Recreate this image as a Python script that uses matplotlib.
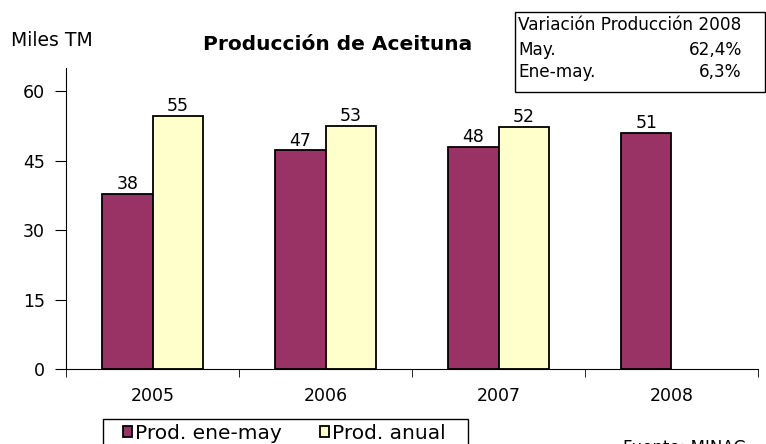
import matplotlib
matplotlib.use("Agg")
import matplotlib.pyplot as plt
from matplotlib.patches import Rectangle
import numpy as np

plt.rcParams['font.family'] = ['DejaVu Sans']

years = ['2005', '2006', '2007', '2008']
ene_may = [37.8, 47.2, 48.0, 51.0]
anual = [54.6, 52.5, 52.3, None]
ene_may_labels = ['38', '47', '48', '51']
anual_labels = ['55', '53', '52', '']
yticks = [0, 15, 30, 45, 60]

W, H = 766, 444
fig = plt.figure(figsize=(W/100, H/100), dpi=100)
ax = fig.add_axes([66/W, 1-369/H, (758-66)/W, (369-68)/H])

FS = 12.5
x = np.arange(len(years))
bw = 0.29
purple = '#993366'
yellow = '#FFFFCC'
b1 = ax.bar(x - bw/2, ene_may, bw, color=purple, edgecolor='black', linewidth=1.3, label='Prod. ene-may')
xa = [xi + bw/2 for xi, v in zip(x, anual) if v is not None]
va = [v for v in anual if v is not None]
b2 = ax.bar(xa, va, bw, color=yellow, edgecolor='black', linewidth=1.3, label='Prod. anual')
for xi, v, l in zip(x, ene_may, ene_may_labels):
    ax.text(xi - bw/2, v + 0.2, l, ha='center', va='bottom', fontsize=FS)
for xi, v, l in zip(x, anual, anual_labels):
    if v is not None:
        ax.text(xi + bw/2, v + 0.2, l, ha='center', va='bottom', fontsize=FS)

ax.set_xlim(-0.5, 3.5)
ax.set_ylim(0, 65)
ax.set_yticks(yticks)
ax.set_yticklabels([str(t) for t in yticks], fontsize=FS)
ax.set_xticks(x)
ax.set_xticklabels(years, fontsize=FS)
ax.set_xticks(np.arange(-0.5, 4.0, 1.0), minor=True)
ax.tick_params(axis='x', which='major', length=0, pad=13)
ax.tick_params(axis='x', which='minor', length=6, direction='out')
ax.tick_params(axis='y', length=8, direction='out', pad=7)
for s in ['top', 'right']:
    ax.spines[s].set_visible(False)

fig.text(11/W, 1-40/H, 'Miles TM', fontsize=13.5, va='center', ha='left')
fig.text(338/W, 1-45/H, 'Producción de Aceituna', fontsize=14.5, fontweight='bold', va='center', ha='center')

# Variation box
fig.patches.append(Rectangle((515/W, 1-92/H), (765-515)/W, (92-12)/H, transform=fig.transFigure,
                             fill=False, edgecolor='black', linewidth=1))
TFS = 12.2
fig.text(518/W, 1-25/H, 'Variación Producción 2008', fontsize=TFS, va='center', ha='left')
fig.text(518/W, 1-50/H, 'May.', fontsize=TFS, va='center', ha='left')
fig.text(742/W, 1-50/H, '62,4%', fontsize=TFS, va='center', ha='right')
fig.text(518/W, 1-72/H, 'Ene-may.', fontsize=TFS, va='center', ha='left')
fig.text(742/W, 1-72/H, '6,3%', fontsize=TFS, va='center', ha='right')

# legend frame (extends below the figure as in the reference)
fig.patches.append(Rectangle((103/W, -20/H), (468-103)/W, (444 - 419 + 20)/H, transform=fig.transFigure,
                             fill=False, edgecolor='black', linewidth=1))
leg = fig.legend(handles=[b1, b2], loc='center left', bbox_to_anchor=(123/W, 1-433/H),
                 ncol=2, fontsize=14.5, frameon=False,
                 handlelength=0.45, handleheight=0.45, handletextpad=0.15, borderpad=0,
                 columnspacing=1.9, borderaxespad=0)

fig.text(623/W, 1-439/H, 'Fuente: MINAG', fontsize=12, va='top', ha='left')

fig.savefig('out.png', dpi=100)
